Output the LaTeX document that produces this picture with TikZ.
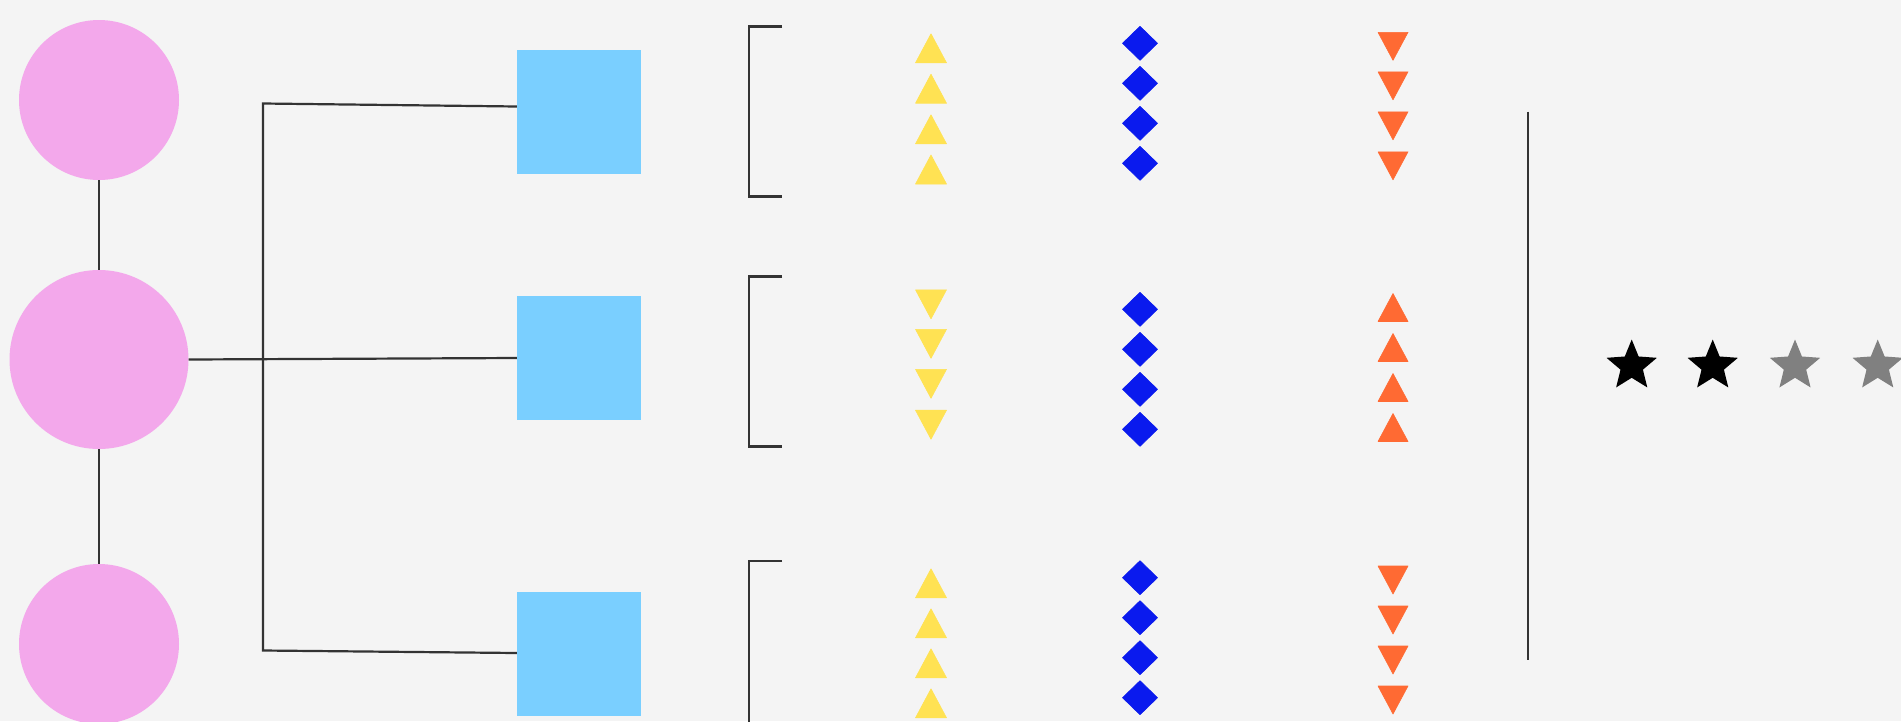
\documentclass[tikz,border=0pt]{standalone}
\usetikzlibrary{shapes.geometric}
\definecolor{bgc}{HTML}{F4F4F4}
\definecolor{pinkc}{HTML}{F3A8EB}
\definecolor{boxc}{HTML}{7ACFFF}
\definecolor{yelc}{HTML}{FFE253}
\definecolor{bluec}{HTML}{0A1AEE}
\definecolor{orac}{HTML}{FF6A33}
\definecolor{linec}{HTML}{333333}
\definecolor{grayc}{HTML}{808080}
\begin{document}
\begin{tikzpicture}[x=1pt,y=-1pt,
  conn/.style={draw=linec, line width=2.2pt},
  brack/.style={draw=linec, line width=2.8pt},
  ball/.style={circle, fill=pinkc, draw=none, inner sep=0pt},
  sq/.style={rectangle, fill=boxc, draw=none, inner sep=0pt, minimum width=124pt, minimum height=124pt},
  symb/.style={line width=0.6pt, line join=round},
  starmark/.style={star, star points=5, star point ratio=2.25, minimum size=53pt, inner sep=0pt, draw=none}]
\fill[bgc] (0,0) rectangle (1901,721);
\useasboundingbox (0,0) rectangle (1901,721);
% circles
\node[ball, minimum size=160pt] (c1) at (99,100) {};
\node[ball, minimum size=179pt] (c2) at (99,359.5) {};
\node[ball, minimum size=160pt] (c3) at (99,644) {};
\draw[conn] (c1.south) -- (c2.north);
\draw[conn] (c2.south) -- (c3.north);
% boxes
\node[sq] (b1) at (579,112) {};
\node[sq] (b2) at (579,358) {};
\node[sq] (b3) at (579,653.5) {};
\coordinate (j1) at (263,103.5);
\coordinate (j3) at (263,650.5);
\draw[conn] ([yshift=5.5pt]b1.west) -- (j1) -- (j3) -- ([yshift=0.5pt]b3.west);
\draw[conn] (c2.east) -- (b2.west);
% brackets
\draw[brack] (782,26.7) -- (749,26.7) -- (749,196.7) -- (782,196.7);
\draw[brack] (782,276.7) -- (749,276.7) -- (749,446.7) -- (782,446.7);
\draw[brack] (782,561) -- (749,561) -- (749,731) -- (782,731);
% yellow triangles
\foreach \y in {48.3,88.7,129.3,169.5,583.3,623.3,663.3,703.3}
  \filldraw[symb, yelc] (915.5,{\y+14.5}) -- (946.5,{\y+14.5}) -- (931,{\y-14.5}) -- cycle;
\foreach \y in {304.3,343.8,383.8,424.7}
  \filldraw[symb, yelc] (915.5,{\y-14.5}) -- (946.5,{\y-14.5}) -- (931,{\y+14.5}) -- cycle;
% blue diamonds
\foreach \y in {43.3,83.3,123.3,163.3,309.3,349.3,389.3,429.3,577.7,617.7,657.7,697.7}
  \filldraw[symb, bluec] (1122.5,\y) -- (1140,{\y-17}) -- (1157.5,\y) -- (1140,{\y+17}) -- cycle;
% orange triangles
\foreach \y in {46.3,85.8,125.8,165.8,580,620,660,700}
  \filldraw[symb, orac] (1378,{\y-14}) -- (1408,{\y-14}) -- (1393,{\y+14}) -- cycle;
\foreach \y in {307.5,347.5,387.5,427.5}
  \filldraw[symb, orac] (1378,{\y+14}) -- (1408,{\y+14}) -- (1393,{\y-14}) -- cycle;
% right vertical line
\draw[conn] (1528,111.7) -- (1528,659.8);
% stars
\node[starmark, fill=black] (s1) at (1631.7,366) {};
\node[starmark, fill=black] (s2) at (1712.7,366) {};
\node[starmark, fill=grayc] (s3) at (1795,366) {};
\node[starmark, fill=grayc] (s4) at (1877.7,366) {};
\end{tikzpicture}
\end{document}
